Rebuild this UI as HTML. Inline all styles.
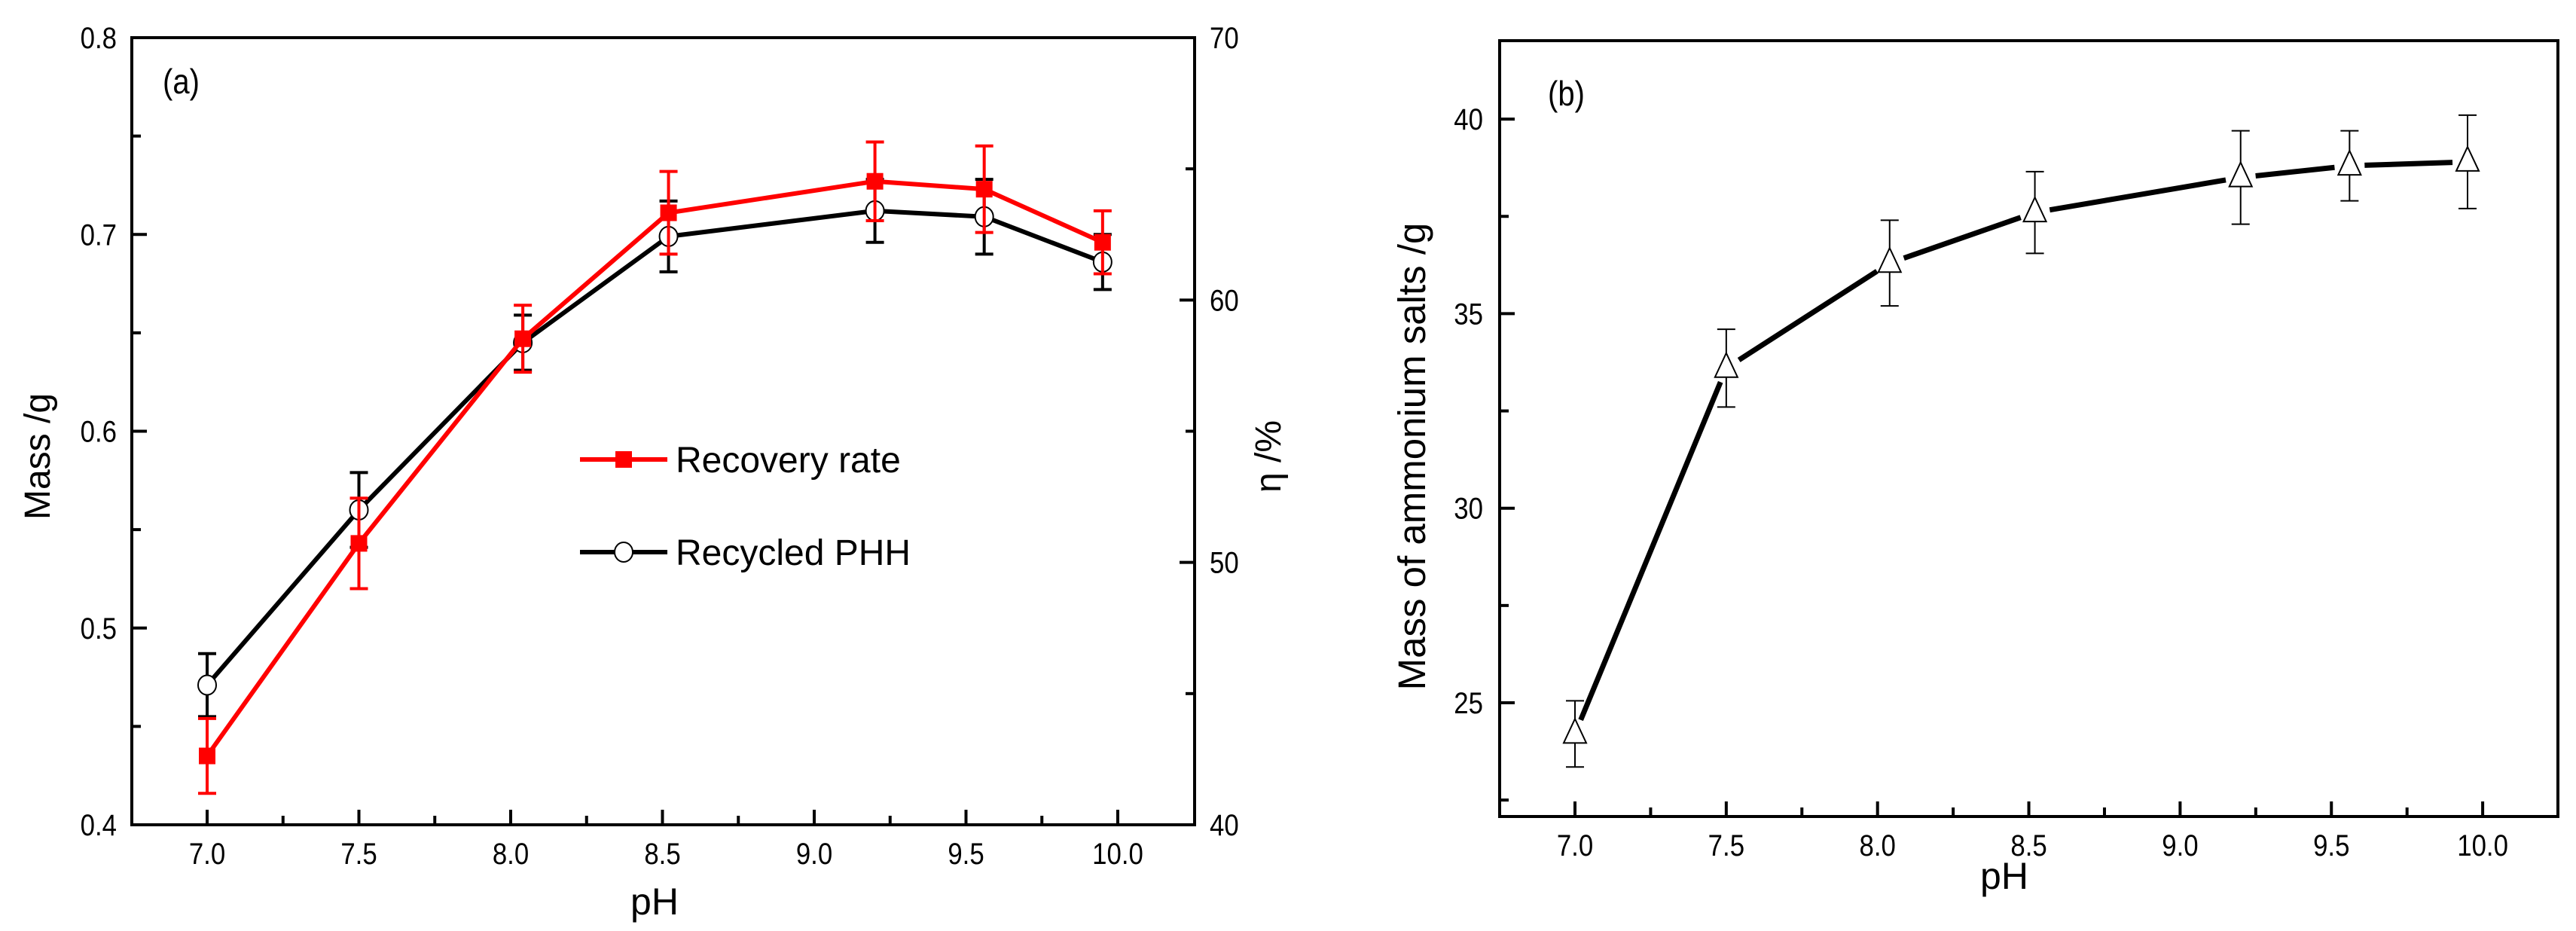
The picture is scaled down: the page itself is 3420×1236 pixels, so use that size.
<!DOCTYPE html>
<html><head><meta charset="utf-8"><style>
html,body{margin:0;padding:0;background:#fff;}
svg{display:block;font-family:"Liberation Sans",Arial,sans-serif;}
</style></head><body>
<svg id="fig" width="3420" height="1236" viewBox="0 0 3420 1236">
<g id="pa"></g>
<g id="pb"></g>
</svg>
<script>
const phA = [7.0, 7.5, 8.04, 8.52, 9.2, 9.56, 9.95];
const recovery = [0.435, 0.543, 0.647, 0.711, 0.727, 0.723, 0.696];
const recoveryErr = [0.019, 0.023, 0.017, 0.021, 0.02, 0.022, 0.016];
const recycled = [0.471, 0.560, 0.645, 0.699, 0.712, 0.709, 0.686];
const recycledErr = [0.016, 0.019, 0.014, 0.018, 0.016, 0.019, 0.014];
const phB = [7.0, 7.5, 8.04, 8.52, 9.2, 9.56, 9.95];
const ammonium = [24.2, 33.6, 36.3, 37.6, 38.5, 38.8, 38.9];
const ammoniumErr = [0.85, 1.0, 1.1, 1.05, 1.2, 0.9, 1.2];
const xTicks = ["7.0","7.5","8.0","8.5","9.0","9.5","10.0"];
const yTicksA = ["0.4","0.5","0.6","0.7","0.8"];
const yTicksA2 = ["40","50","60","70"];
const yTicksB = ["25","30","35","40"];

const NS="http://www.w3.org/2000/svg";
function mk(parent,tag,attrs,text){const e=document.createElementNS(NS,tag);for(const k in attrs)e.setAttribute(k,attrs[k]);if(text!==undefined)e.textContent=text;parent.appendChild(e);return e;}
function narrow(parent,x,y,size,anchor,s){return mk(parent,'text',{x:0,y:0,'font-size':size,'text-anchor':anchor,transform:`translate(${x},${y}) scale(0.87,1)`},s);}

// ---------- Panel A ----------
const A=document.getElementById('pa');
const aL=175,aR=1586,aT=50,aB=1095;
const ax=v=>275+(v-7)*403;
const ay=v=>aB-(v-0.4)/0.4*(aB-aT);
const ay2=v=>aB-(v-40)/30*(aB-aT);
for(let i=0;i<=6;i++){const v=7+i*0.5;let t=mk(A,'line',{x1:ax(v),x2:ax(v),y1:aB,y2:aB-20,stroke:'#000','stroke-width':4});

let l=narrow(A,ax(v),aB+52,40,'middle',xTicks[i]);

if(i<6){let m=mk(A,'line',{x1:ax(v+0.25),x2:ax(v+0.25),y1:aB,y2:aB-12,stroke:'#000','stroke-width':4});
}}
yTicksA.forEach((s,i)=>{const v=0.4+i*0.1;let t=mk(A,'line',{x1:aL,x2:aL+20,y1:ay(v),y2:ay(v),stroke:'#000','stroke-width':4});

let l=narrow(A,aL-20,ay(v)+14,40,'end',s);

if(i<4){let m=mk(A,'line',{x1:aL,x2:aL+12,y1:ay(v+0.05),y2:ay(v+0.05),stroke:'#000','stroke-width':4});
}});
yTicksA2.forEach((s,i)=>{const v=40+i*10;let t=mk(A,'line',{x1:aR,x2:aR-20,y1:ay2(v),y2:ay2(v),stroke:'#000','stroke-width':4});

let l=narrow(A,aR+20,ay2(v)+14,40,'start',s);

if(i<3){let m=mk(A,'line',{x1:aR,x2:aR-12,y1:ay2(v+5),y2:ay2(v+5),stroke:'#000','stroke-width':4});
}});
let fa=mk(A,'rect',{x:aL,y:aT,width:aR-aL,height:aB-aT,fill:'none',stroke:'#000','stroke-width':4});

function seriesA(vals,errs,color,name,marker){
  const g=mk(A,'g',{});
  vals.forEach((v,i)=>{const x=ax(phA[i]);const e=mk(g,'path',{d:`M${x},${ay(v-errs[i])}V${ay(v+errs[i])}M${x-12},${ay(v-errs[i])}h24M${x-12},${ay(v+errs[i])}h24`,stroke:color,'stroke-width':4,fill:'none'});
  });
  const p=mk(g,'polyline',{points:vals.map((v,i)=>ax(phA[i])+','+ay(v)).join(' '),fill:'none',stroke:color,'stroke-width':6,'stroke-linejoin':'round'});
  
  vals.forEach((v,i)=>{const x=ax(phA[i]),y=ay(v);let m;
    if(marker==='sq')m=mk(g,'rect',{x:x-11,y:y-11,width:22,height:22,fill:color});
    else m=mk(g,'ellipse',{cx:x,cy:y,rx:12,ry:13,fill:'#fff',stroke:'#000','stroke-width':2});
    });
}
seriesA(recycled,recycledErr,'#000','series-recycled-phh','circ');
seriesA(recovery,recoveryErr,'#f00','series-recovery-rate','sq');
let lg=mk(A,'g',{});
let l1=mk(lg,'line',{x1:770,x2:886,y1:610,y2:610,stroke:'#f00','stroke-width':6});
let m1=mk(lg,'rect',{x:817,y:599,width:22,height:22,fill:'#f00'});
let t1=mk(lg,'text',{x:897,y:627,'font-size':48},'Recovery rate');
let l2=mk(lg,'line',{x1:770,x2:886,y1:733,y2:733,stroke:'#000','stroke-width':6});
let m2=mk(lg,'ellipse',{cx:828,cy:733,rx:12,ry:13,fill:'#fff',stroke:'#000','stroke-width':2});
let t2=mk(lg,'text',{x:897,y:750,'font-size':48},'Recycled PHH');
let ta=narrow(A,216,124,46,'start','(a)');
let xa=mk(A,'text',{x:869,y:1214,'font-size':50,'text-anchor':'middle'},'pH');
let ya=mk(A,'text',{x:0,y:0,'font-size':48,'text-anchor':'middle',transform:'translate(66,606) rotate(-90)'},'Mass /g');
let y2a=mk(A,'text',{x:0,y:0,'font-size':48,'text-anchor':'middle',transform:'translate(1700,606) rotate(-90)'},'η /%');

// ---------- Panel B ----------
const B=document.getElementById('pb');
const bL=1991,bR=3396,bT=54,bB=1084;
const bx=v=>2091+(v-7)*401.7;
const by=v=>933-(v-25)/5*258.3;
for(let i=0;i<=6;i++){const v=7+i*0.5;let t=mk(B,'line',{x1:bx(v),x2:bx(v),y1:bB,y2:bB-20,stroke:'#000','stroke-width':4});

let l=narrow(B,bx(v),bB+52,40,'middle',xTicks[i]);

if(i<6){let m=mk(B,'line',{x1:bx(v+0.25),x2:bx(v+0.25),y1:bB,y2:bB-12,stroke:'#000','stroke-width':4});
}}
yTicksB.forEach((s,i)=>{const v=25+i*5;let t=mk(B,'line',{x1:bL,x2:bL+20,y1:by(v),y2:by(v),stroke:'#000','stroke-width':4});

let l=narrow(B,bL-22,by(v)+14,40,'end',s);
});
[22.5,27.5,32.5,37.5].forEach(v=>{let m=mk(B,'line',{x1:bL,x2:bL+12,y1:by(v),y2:by(v),stroke:'#000','stroke-width':4});
});
let fb=mk(B,'rect',{x:bL,y:bT,width:bR-bL,height:bB-bT,fill:'none',stroke:'#000','stroke-width':4});

const gb=mk(B,'g',{});
ammonium.forEach((v,i)=>{const x=bx(phB[i]);const e=mk(gb,'path',{d:`M${x},${by(v-ammoniumErr[i])}V${by(v+ammoniumErr[i])}M${x-12},${by(v-ammoniumErr[i])}h24M${x-12},${by(v+ammoniumErr[i])}h24`,stroke:'#000','stroke-width':2,fill:'none'});
});
for(let i=0;i<ammonium.length-1;i++){const x1=bx(phB[i]),y1=by(ammonium[i]),x2=bx(phB[i+1]),y2=by(ammonium[i+1]);
const dx=x2-x1,dy=y2-y1,d=Math.hypot(dx,dy),g=20;
const s=mk(gb,'line',{x1:x1+dx/d*g,y1:y1+dy/d*g,x2:x2-dx/d*g,y2:y2-dy/d*g,stroke:'#000','stroke-width':7});
}
ammonium.forEach((v,i)=>{const x=bx(phB[i]),y=by(v);
const m=mk(gb,'polygon',{points:`${x},${y-20} ${x-15},${y+12} ${x+15},${y+12}`,fill:'#fff',stroke:'#000','stroke-width':2});
});
let tb=narrow(B,2055,140,46,'start','(b)');
let xb=mk(B,'text',{x:2661,y:1180,'font-size':50,'text-anchor':'middle'},'pH');
let yb=mk(B,'text',{x:0,y:0,'font-size':51,'text-anchor':'middle',transform:'translate(1892,606) rotate(-90)'},'Mass of ammonium salts /g');
</script>
</body></html>
